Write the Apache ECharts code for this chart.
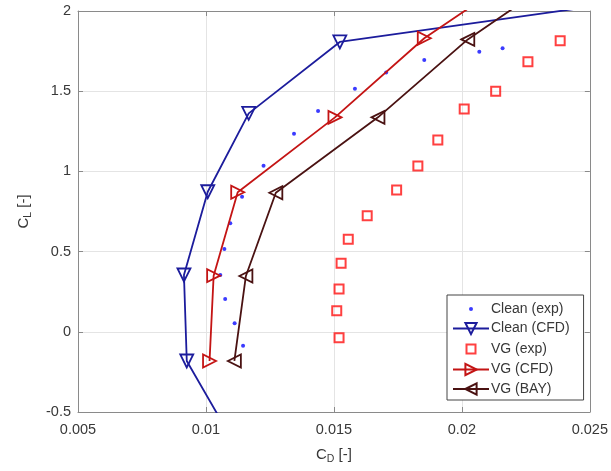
<!DOCTYPE html>
<html>
<head>
<meta charset="utf-8">
<script src="https://cdn.jsdelivr.net/npm/echarts@6/dist/echarts.min.js"></script>
<style>
  html, body { margin: 0; padding: 0; background: #fff; }
  #chart { width: 611px; height: 471px; }
</style>
</head>
<body>
<div id="chart"></div>
<script>
// Drag polar: lift coefficient vs drag coefficient
const cleanExpCd = [0.01145, 0.01112, 0.01075, 0.01056, 0.01072, 0.01095, 0.01141, 0.01225, 0.01344, 0.01438, 0.01582, 0.01704, 0.01853, 0.02068, 0.02159];
const cleanExpCl = [-0.087, 0.053, 0.205, 0.354, 0.516, 0.676, 0.842, 1.036, 1.235, 1.377, 1.516, 1.617, 1.695, 1.746, 1.767];

const cleanCfdCd = [0.01076, 0.00925, 0.00914, 0.01007, 0.01167, 0.01523, 0.02606];
const cleanCfdCl = [-0.60, -0.182, 0.354, 0.873, 1.362, 1.807, 2.05];

const vgExpCd = [0.01520, 0.01511, 0.01520, 0.01528, 0.01556, 0.01630, 0.01745, 0.01828, 0.01906, 0.02009, 0.02132, 0.02258, 0.02384];
const vgExpCl = [-0.037, 0.131, 0.267, 0.427, 0.577, 0.724, 0.884, 1.034, 1.196, 1.389, 1.499, 1.684, 1.815];

const vgCfdCd = [0.01014, 0.01030, 0.01124, 0.01504, 0.01853, 0.02103];
const vgCfdCl = [-0.182, 0.350, 0.870, 1.337, 1.830, 2.10];

const vgBayCd = [0.01111, 0.01156, 0.01273, 0.01672, 0.02023, 0.02277];
const vgBayCl = [-0.182, 0.348, 0.867, 1.337, 1.823, 2.10];

const xTicks = { min: 0.005, max: 0.025, step: 0.005 };
const yTicks = { min: -0.5, max: 2, step: 0.5 };

const zip = (xs, ys) => xs.map((x, i) => [x, ys[i]]);

const FONT = 'Arial, "Liberation Sans", sans-serif';
const TEXT = '#383838';
const AXIS = '#8a8a8a';

const fmt = v => String(+v.toFixed(4));

// legend icons: a small mark centred in a 36x14 box (degenerate corner points fix the box size)
const dotIcon = 'path://M0,0L0,0M36,14L36,14M18,5A2,2,0,1,1,18,9A2,2,0,1,1,18,5Z';
const squareIcon = 'path://M0,0L0,0M36,14L36,14M13.5,2.5L22.5,2.5L22.5,11.5L13.5,11.5Z';

const chart = echarts.init(document.getElementById('chart'), null, { renderer: 'canvas' });

const baseX = { type: 'value', min: xTicks.min, max: xTicks.max, interval: xTicks.step };
const baseY = { type: 'value', min: yTicks.min, max: yTicks.max, interval: yTicks.step };

const nameStyle = {
  color: TEXT, fontFamily: FONT, fontSize: 15,
  rich: {
    n: { fontSize: 15, fontFamily: FONT, color: TEXT },
    s: { fontSize: 10.5, fontFamily: FONT, color: TEXT, verticalAlign: 'bottom', padding: [9, 0, 0, 0] }
  }
};
const lineAxis = { show: true, onZero: false, lineStyle: { color: AXIS, width: 1 } };
const tickIn = { show: true, inside: true, length: 5, lineStyle: { color: AXIS } };
const gridLine = { show: true, lineStyle: { color: '#e4e4e4', width: 1 } };

chart.setOption({
  animation: false,
  backgroundColor: '#fff',
  grid: { left: 78, right: 19, top: 11, bottom: 59, containLabel: false },
  xAxis: [
    Object.assign({}, baseX, {
      position: 'bottom',
      name: '{n|C}{s|D} [-]',
      nameLocation: 'middle',
      nameGap: 33,
      nameTextStyle: nameStyle,
      axisLine: lineAxis,
      axisTick: tickIn,
      axisLabel: { color: TEXT, fontFamily: FONT, fontSize: 14.5, margin: 10, formatter: fmt },
      splitLine: gridLine
    }),
    Object.assign({}, baseX, {
      position: 'top',
      axisLine: lineAxis,
      axisTick: tickIn,
      axisLabel: { show: false },
      splitLine: { show: false }
    })
  ],
  yAxis: [
    Object.assign({}, baseY, {
      position: 'left',
      name: '{n|C}{s|L} [-]',
      nameLocation: 'middle',
      nameGap: 44,
      nameRotate: 90,
      nameTextStyle: nameStyle,
      axisLine: lineAxis,
      axisTick: tickIn,
      axisLabel: { color: TEXT, fontFamily: FONT, fontSize: 14.5, margin: 7, formatter: fmt },
      splitLine: gridLine
    }),
    Object.assign({}, baseY, {
      position: 'right',
      axisLine: lineAxis,
      axisTick: tickIn,
      axisLabel: { show: false },
      splitLine: { show: false }
    })
  ],
  legend: {
    orient: 'vertical',
    left: 447,
    top: 295,
    itemWidth: 36,
    itemHeight: 14,
    itemGap: 5.5,
    padding: [7, 14, 4, 5],
    borderColor: '#444',
    borderWidth: 1,
    backgroundColor: '#fff',
    textStyle: { color: TEXT, fontFamily: FONT, fontSize: 14, padding: [0, 0, 0, -3] },
    data: [
      { name: 'Clean (exp)', icon: dotIcon },
      { name: 'Clean (CFD)' },
      { name: 'VG (exp)', icon: squareIcon },
      { name: 'VG (CFD)' },
      { name: 'VG (BAY)' }
    ]
  },
  series: [
    {
      name: 'Clean (exp)',
      type: 'scatter',
      data: zip(cleanExpCd, cleanExpCl),
      symbol: 'circle',
      symbolSize: 4,
      itemStyle: { color: '#0a0aff' },
      z: 2
    },
    {
      name: 'Clean (CFD)',
      type: 'line',
      data: zip(cleanCfdCd, cleanCfdCl),
      clip: true,
      symbol: 'triangle',
      symbolRotate: 180,
      symbolSize: 13,
      showAllSymbol: true,
      lineStyle: { color: '#1c1c9c', width: 1.8 },
      itemStyle: { color: 'rgba(0,0,0,0)', borderColor: '#1c1c9c', borderWidth: 1.8 },
      z: 3
    },
    {
      name: 'VG (exp)',
      type: 'scatter',
      data: zip(vgExpCd, vgExpCl),
      symbol: 'rect',
      symbolSize: 9,
      itemStyle: { color: 'rgba(0,0,0,0)', borderColor: '#ff1010', borderWidth: 2 },
      z: 4
    },
    {
      name: 'VG (CFD)',
      type: 'line',
      data: zip(vgCfdCd, vgCfdCl),
      clip: true,
      symbol: 'triangle',
      symbolRotate: -90,
      symbolSize: 13,
      showAllSymbol: true,
      lineStyle: { color: '#c41414', width: 1.8 },
      itemStyle: { color: 'rgba(0,0,0,0)', borderColor: '#c41414', borderWidth: 1.8 },
      z: 5
    },
    {
      name: 'VG (BAY)',
      type: 'line',
      data: zip(vgBayCd, vgBayCl),
      clip: true,
      symbol: 'triangle',
      symbolRotate: 90,
      symbolSize: 13,
      showAllSymbol: true,
      lineStyle: { color: '#4a1212', width: 1.8 },
      itemStyle: { color: 'rgba(0,0,0,0)', borderColor: '#4a1212', borderWidth: 1.8 },
      z: 6
    }
  ]
});
</script>
</body>
</html>
